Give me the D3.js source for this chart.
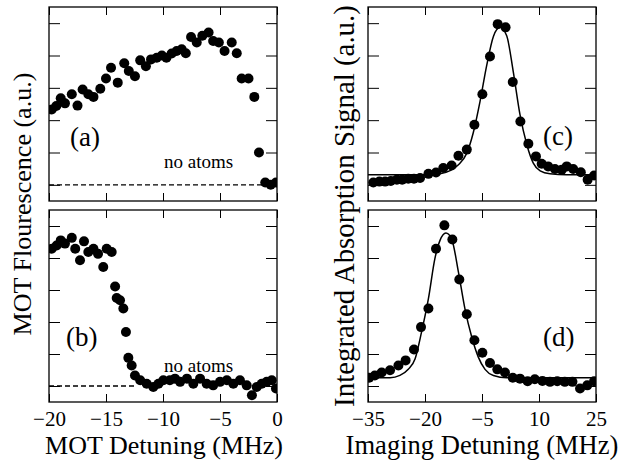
<!DOCTYPE html>
<html>
<head>
<meta charset="utf-8">
<script src="https://cdn.jsdelivr.net/npm/d3@7"></script>
<style>
  body { margin: 0; background: #fff; }
  svg { display: block; }
  svg text { font-family: "Liberation Serif", "DejaVu Serif", serif; }
</style>
</head>
<body>
<svg id="chart" width="628" height="460"></svg>
<script>
// panel (a): MOT fluorescence vs MOT detuning (MHz)
var detA = [-19.76, -19.36, -18.97, -18.6, -18.0, -17.5, -17.05, -16.55, -16.1, -15.5, -15.0, -14.56, -13.97, -13.4, -13.0, -12.46, -12.0, -11.5, -11.05, -10.55, -10.1, -9.7, -9.24, -8.8, -8.36, -8.0, -7.54, -7.04, -6.55, -6.0, -5.6, -5.1, -4.6, -3.97, -3.53, -3.1, -2.5, -1.99, -1.58, -1.03, -0.55, -0.09];
var fluorA = [2.33, 2.44, 2.68, 2.52, 2.80, 2.45, 2.95, 2.80, 2.72, 2.97, 3.29, 3.62, 3.16, 3.76, 3.52, 3.36, 3.85, 3.67, 3.88, 3.93, 4.0, 3.93, 4.06, 4.14, 4.19, 4.07, 4.57, 4.40, 4.61, 4.71, 4.45, 4.40, 4.14, 4.40, 4.07, 3.29, 3.29, 2.72, 1.0, 0.07, 0.0, 0.07];

// panel (b)
var detB = [-19.76, -19.33, -18.97, -18.6, -18.0, -17.7, -17.28, -16.93, -16.55, -16.1, -15.7, -15.24, -14.94, -14.5, -14.2, -14.06, -13.77, -13.48, -13.25, -13.04, -12.75, -12.46, -12.0, -11.43, -10.85, -10.4, -9.97, -9.4, -8.95, -8.5, -7.9, -7.34, -6.75, -6.17, -5.6, -5.0, -4.4, -3.83, -3.25, -2.66, -2.2, -1.78, -1.34, -0.9, -0.46, -0.09];
var fluorB = [4.29, 4.39, 4.55, 4.45, 4.63, 4.29, 3.93, 4.52, 4.19, 4.29, 4.13, 3.72, 4.29, 4.19, 3.11, 2.75, 2.68, 2.42, 1.69, 0.88, 0.64, 0.33, 0.18, 0.07, -0.03, 0.07, 0.18, 0.18, 0.23, 0.13, 0.23, 0.07, 0.23, 0.07, 0.02, 0.13, 0.18, 0.07, 0.18, 0.02, -0.29, -0.03, 0.07, 0.13, 0.18, -0.08];

// panel (c): absorption vs imaging detuning (MHz)
var detC = [-33.6, -32.0, -30.5, -29.0, -27.4, -26.0, -24.4, -22.9, -21.3, -19.1, -17.1, -15.2, -13.0, -11.2, -9.0, -7.0, -4.9, -2.9, -0.87, 1.2, 3.1, 5.1, 7.2, 9.2, 10.7, 12.4, 14.2, 16.0, 17.3, 19.0, 21.0, 22.8, 24.5];
var absC = [0.07, 0.10, 0.10, 0.12, 0.16, 0.16, 0.19, 0.19, 0.21, 0.34, 0.38, 0.52, 0.60, 0.90, 1.09, 1.86, 2.80, 3.97, 4.97, 4.87, 3.18, 1.96, 1.27, 0.88, 0.65, 0.57, 0.49, 0.47, 0.57, 0.49, 0.39, 0.16, 0.29];
var fitDetC = [-35, -20.4, -16.05, -13.4, -11.2, -9.0, -7.3, -5.5, -3.8, -2.0, -0.26, 1.5, 3.2, 5.0, 6.8, 8.5, 10.3, 12.9, 17.3, 25];
var fitAbsC = [0.31, 0.31, 0.34, 0.44, 0.62, 0.98, 1.61, 2.59, 3.67, 4.59, 4.87, 4.61, 3.52, 2.17, 1.24, 0.67, 0.43, 0.34, 0.31, 0.31];

// panel (d)
var detD = [-34.7, -33.2, -31.4, -29.2, -27.0, -25.1, -22.9, -21.05, -19.1, -17.1, -14.9, -12.8, -10.97, -9.0, -7.0, -4.9, -2.9, -0.97, 1.05, 3.1, 5.0, 7.0, 8.9, 10.9, 12.9, 14.8, 16.8, 18.8, 20.8, 22.7, 24.5];
var absD = [0.26, 0.33, 0.42, 0.49, 0.64, 0.80, 1.14, 1.84, 2.42, 4.29, 5.02, 4.58, 3.33, 2.24, 1.43, 1.04, 0.72, 0.52, 0.42, 0.26, 0.23, 0.15, 0.21, 0.16, 0.13, 0.15, 0.13, 0.13, -0.08, 0.02, 0.15];
var fitDetD = [-35, -29.2, -26.6, -24.4, -22.6, -20.9, -19.1, -17.4, -16.05, -14.5, -13.0, -11.2, -9.5, -7.7, -6.0, -4.2, -2.0, 1.5, 25];
var fitAbsD = [0.26, 0.26, 0.33, 0.52, 0.85, 1.69, 2.73, 3.98, 4.55, 4.78, 4.60, 3.56, 2.42, 1.53, 0.91, 0.52, 0.33, 0.26, 0.26];

var motTicks = [-20, -15, -10, -5, 0];
var imgTicks = [-35, -20, -5, 10, 25];
var yTicks = [0, 1, 2, 3, 4, 5];

var serif = '"Liberation Serif", "DejaVu Serif", serif';
var svg = d3.select('#chart');

function panel(id, left, right, top, bottom, xDomain, xTicks, showLabels) {
	var x = d3.scaleLinear().domain(xDomain).range([left, right]);
	var y = d3.scaleLinear().domain([-0.5, 5.5]).range([bottom, top]);
	var g = svg.append('g');

	g.append('clipPath').attr('id', 'clip' + id)
		.append('rect').attr('x', left).attr('y', top)
		.attr('width', right - left).attr('height', bottom - top);

	var axB = g.append('g').attr('transform', 'translate(0,' + bottom + ')')
		.call(d3.axisBottom(x).tickValues(xTicks).tickSize(-8).tickPadding(9)
			.tickFormat(showLabels ? d3.format('d') : ''));
	g.append('g').attr('transform', 'translate(0,' + top + ')')
		.call(d3.axisTop(x).tickValues(xTicks).tickSize(-8).tickFormat(''));
	g.append('g').attr('transform', 'translate(' + left + ',0)')
		.call(d3.axisLeft(y).tickValues(yTicks).tickSize(-11).tickFormat(''));
	g.append('g').attr('transform', 'translate(' + right + ',0)')
		.call(d3.axisRight(y).tickValues(yTicks).tickSize(-11).tickFormat(''));
	g.selectAll('.domain').remove();
	g.selectAll('.tick line').attr('stroke', '#000').attr('stroke-width', 1);
	axB.attr('font-family', serif);
	axB.selectAll('text').style('font-family', serif)
		.style('font-size', '21px').attr('fill', '#000');

	g.append('rect').attr('x', left).attr('y', top)
		.attr('width', right - left).attr('height', bottom - top)
		.attr('fill', 'none').attr('stroke', '#000').attr('stroke-width', 1.3);

	var plot = g.append('g').attr('clip-path', 'url(#clip' + id + ')');
	return { x: x, y: y, g: g, plot: plot };
}

function dots(p, xs, ys) {
	p.plot.selectAll('circle.pt').data(xs).enter().append('circle')
		.attr('class', 'pt')
		.attr('cx', function(d) { return p.x(d); })
		.attr('cy', function(d, i) { return p.y(ys[i]); })
		.attr('r', 5)
		.attr('fill', '#000');
}

function fitLine(p, xs, ys) {
	var line = d3.line()
		.x(function(d) { return p.x(d); })
		.y(function(d, i) { return p.y(ys[i]); })
		.curve(d3.curveMonotoneX);
	p.plot.append('path').datum(xs).attr('d', line)
		.attr('fill', 'none').attr('stroke', '#000').attr('stroke-width', 1.5);
}

function baseline(p, x0, x1) {
	p.plot.append('line')
		.attr('x1', p.x(x0)).attr('x2', p.x(x1))
		.attr('y1', p.y(0)).attr('y2', p.y(0))
		.attr('stroke', '#000').attr('stroke-width', 1.3)
		.attr('stroke-dasharray', '5,3');
}

function label(p, txt, x, y, size) {
	p.g.append('text').attr('x', x).attr('y', y)
		.style('font-family', serif)
		.style('font-size', size + 'px').attr('fill', '#000').text(txt);
}

var pa = panel('a', 49, 277, 7, 201, [-20, 0], motTicks, false);
var pb = panel('b', 49, 277, 210, 402, [-20, 0], motTicks, true);
var pc = panel('c', 368, 596, 7, 201, [-35, 25], imgTicks, false);
var pd = panel('d', 368, 596, 210, 402, [-35, 25], imgTicks, true);

baseline(pa, -20, -0.8);
baseline(pb, -20, -12.5);
dots(pa, detA, fluorA);
dots(pb, detB, fluorB);
fitLine(pc, fitDetC, fitAbsC);
fitLine(pd, fitDetD, fitAbsD);
dots(pc, detC, absC);
dots(pd, detD, absD);

label(pa, '(a)', 70, 146, 27);
label(pb, '(b)', 66, 346, 27);
label(pc, '(c)', 543, 145, 27);
label(pd, '(d)', 543, 346, 27);
label(pa, 'no atoms', 164, 168, 19);
label(pb, 'no atoms', 164, 372, 19);

// axis titles
function title(txt, x, y, rot, width) {
	var t = svg.append('text').attr('text-anchor', 'middle')
		.attr('transform', 'translate(' + x + ',' + y + ')' + (rot ? ' rotate(-90)' : ''))
		.style('font-family', serif)
		.style('font-size', '20px').attr('fill', '#000').text(txt);
	var w = t.node().getComputedTextLength();
	t.style('font-size', (20 * width / w) + 'px');
}

title('MOT Detuning (MHz)', 164, 454, false, 238);
title('Imaging Detuning (MHz)', 482, 454, false, 273);
title('MOT Flourescence (a.u.)', 31, 204, true, 263);
title('Integrated Absorption Signal (a.u.)', 354, 206, true, 402);
</script>
</body>
</html>
